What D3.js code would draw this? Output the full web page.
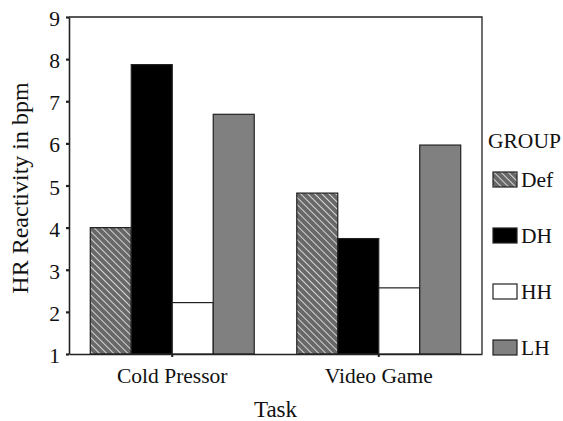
<!DOCTYPE html>
<html>
<head>
<meta charset="utf-8">
<script src="https://cdn.jsdelivr.net/npm/d3@7"></script>
<style>
  body { margin: 0; background: #fff; }
  text { font-family: "Liberation Serif", "Times New Roman", serif; fill: #111; }
</style>
</head>
<body>
<svg id="chart" width="563" height="421"></svg>
<script>
// data
const tasks = ["Cold Pressor", "Video Game"];
const groups = ["Def", "DH", "HH", "LH"];
const defValues = [4.0, 4.82];
const dhValues = [7.87, 3.74];
const hhValues = [2.22, 2.57];
const lhValues = [6.69, 5.96];
const yTicks = [1, 2, 3, 4, 5, 6, 7, 8, 9];

const seriesByGroup = { Def: defValues, DH: dhValues, HH: hhValues, LH: lhValues };
const fills = { Def: "url(#hatch)", DH: "#000", HH: "#fff", LH: "#808080" };

const svg = d3.select("#chart");
const plotL = 69, plotR = 482, plotT = 17, plotB = 354;

// hatch pattern for Def, lines running top-left to bottom-right
const defs = svg.append("defs");
const pat = defs.append("pattern")
    .attr("id", "hatch")
    .attr("patternUnits", "userSpaceOnUse")
    .attr("width", 5).attr("height", 5)
    .attr("patternTransform", "rotate(-45)");
pat.append("rect").attr("width", 5).attr("height", 5).attr("fill", "#686868");
pat.append("line")
    .attr("x1", 0).attr("y1", 0).attr("x2", 0).attr("y2", 5)
    .attr("stroke", "#f2f2f2").attr("stroke-width", 1.6);

const x0 = d3.scaleBand().domain(tasks).range([plotL, plotR])
    .paddingInner(0.206).paddingOuter(0.103);
const x1 = d3.scaleBand().domain(groups).range([0, x0.bandwidth()]);
const y = d3.scaleLinear().domain([1, 9]).range([plotB, plotT]);

// frame: top and right lines
svg.append("path")
    .attr("d", `M${plotL},${plotT}H${plotR}V${plotB}`)
    .attr("fill", "none").attr("stroke", "#222").attr("stroke-width", 1.3);

// bars
const g = svg.append("g");
tasks.forEach(function(t, i) {
    g.selectAll(null)
        .data(groups.map(k => ({ key: k, value: seriesByGroup[k][i] })))
        .enter()
        .append("rect")
        .attr("x", d => x0(t) + x1(d.key))
        .attr("y", d => y(d.value))
        .attr("width", x1.bandwidth())
        .attr("height", d => y(1) - y(d.value))
        .attr("fill", d => fills[d.key])
        .attr("stroke", "#222")
        .attr("stroke-width", 1.2);
});

// y axis
const yAxis = svg.append("g")
    .attr("transform", `translate(${plotL},0)`)
    .call(d3.axisLeft(y).tickValues(yTicks).tickSize(3).tickPadding(6).tickSizeOuter(0));
yAxis.select(".domain").attr("stroke", "#222").attr("stroke-width", 1.6);
yAxis.selectAll(".tick line").attr("stroke", "#222").attr("stroke-width", 2.2);
yAxis.selectAll(".tick text").attr("font-size", 21.5)
    .style("font-family", "Liberation Serif").attr("dy", "0.4em");

// x axis
const xAxis = svg.append("g")
    .attr("transform", `translate(0,${plotB})`)
    .call(d3.axisBottom(x0).tickSize(3).tickSizeOuter(0));
xAxis.select(".domain").attr("stroke", "#222").attr("stroke-width", 1.6);
xAxis.selectAll(".tick line").attr("stroke", "#222").attr("stroke-width", 2);
xAxis.selectAll(".tick text").attr("font-size", 21.5)
    .style("font-family", "Liberation Serif")
    .attr("y", 29).attr("dy", 0);

// axis titles
svg.append("text")
    .attr("x", (plotL + plotR) / 2).attr("y", 417)
    .attr("text-anchor", "middle").attr("font-size", 23)
    .text("Task");
svg.append("text")
    .attr("transform", `translate(28,188) rotate(-90)`)
    .attr("text-anchor", "middle").attr("font-size", 24)
    .text("HR Reactivity in bpm");

// legend
svg.append("text")
    .attr("x", 488).attr("y", 148)
    .attr("font-size", 21.5)
    .text("GROUP");
const leg = svg.selectAll(".leg")
    .data(groups)
    .enter().append("g")
    .attr("transform", (d, i) => `translate(493,${172 + i * 56})`);
leg.append("rect")
    .attr("width", 24).attr("height", 15)
    .attr("fill", d => fills[d])
    .attr("stroke", "#222").attr("stroke-width", 1.2);
leg.append("text")
    .attr("x", 28).attr("y", 15)
    .attr("font-size", 21.5)
    .text(d => d);
</script>
</body>
</html>
